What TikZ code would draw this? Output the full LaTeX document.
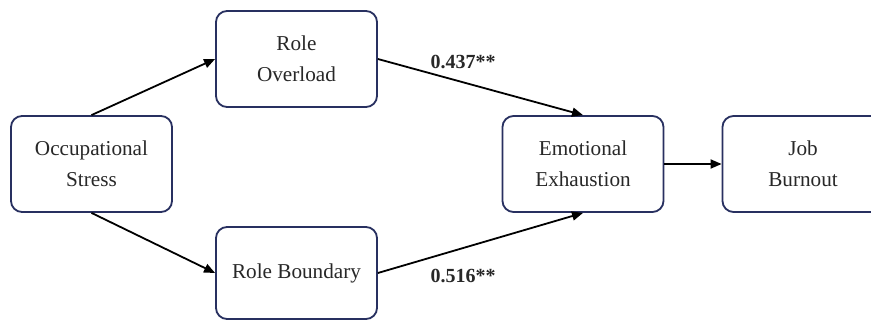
\documentclass[tikz,border=0pt]{standalone}
\usepackage{fontspec}
\setmainfont{Liberation Serif}
\usetikzlibrary{arrows.meta}
\definecolor{boxline}{RGB}{40,48,96}
\definecolor{txt}{RGB}{40,40,40}
\tikzset{
  box/.style={draw=boxline, line width=1.8pt, rounded corners=11pt, fill=white,
    minimum width=161pt, minimum height=96pt, align=center, text=txt,
    font=\fontsize{21.2}{31}\selectfont, inner sep=0pt},
  conn/.style={line width=1.8pt, -{Triangle[length=11pt,width=9pt]}},
  coef/.style={font=\fontsize{20}{24}\selectfont\bfseries, text=txt, inner sep=0pt}
}
\begin{document}
\begin{tikzpicture}[x=1pt,y=-1pt]
\path[use as bounding box] (0,0) rectangle (871,320);
\clip (0,0) rectangle (871,320);
\fill[white] (0,0) rectangle (871,320);
\node[box] (occ) at (91.5,164) {Occupational\\Stress};
\node[box] (ro) at (296.5,59) {Role\\Overload};
\node[box, minimum height=92pt] (rb) at (296.5,273) {Role Boundary};
\node[box] (ee) at (583,164) {Emotional\\Exhaustion};
\node[box] (jb) at (803,164) {Job\\Burnout};
\draw[conn] (occ.north) -- (ro.west);
\draw[conn] (occ.south) -- (rb.west);
\draw[conn] (ro.east) -- (ee.north);
\draw[conn] (rb.east) -- (ee.south);
\draw[conn] (ee.east) -- (jb.west);
\node[coef] (c1) at (463,62) {0.437**};
\node[coef] (c2) at (463,276) {0.516**};
\end{tikzpicture}
\end{document}
